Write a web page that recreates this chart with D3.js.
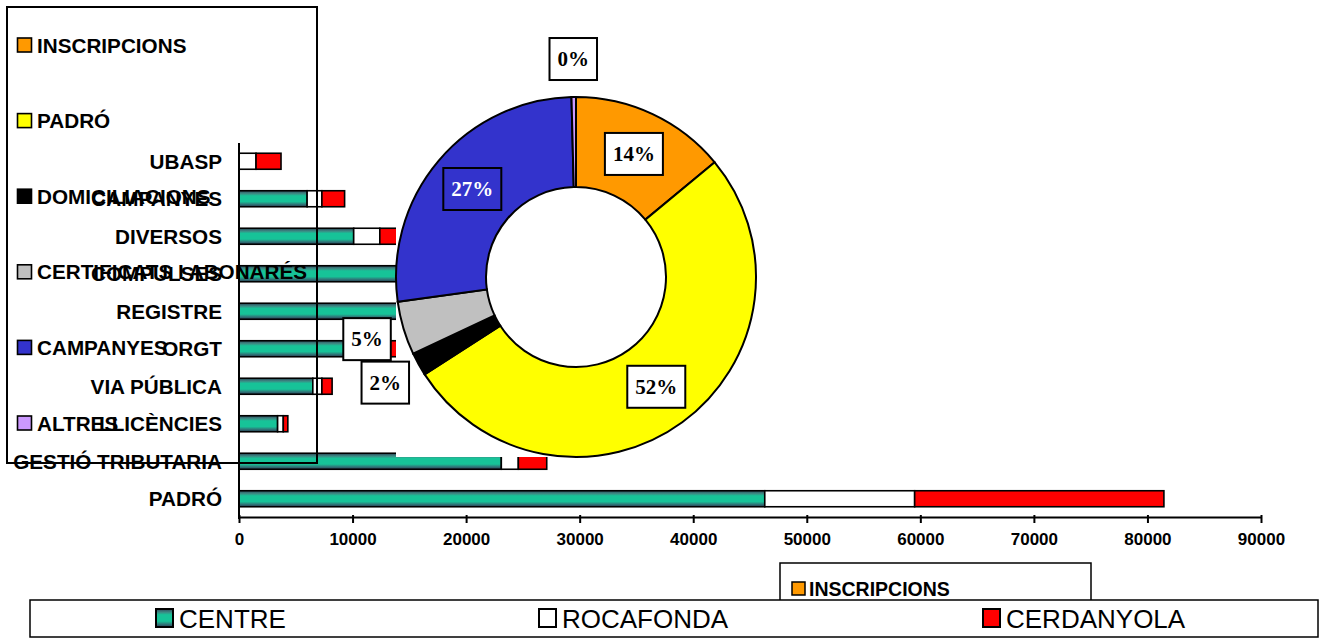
<!DOCTYPE html>
<html><head><meta charset="utf-8">
<script src="https://cdn.jsdelivr.net/npm/d3@7"></script>
<style>
html,body{margin:0;padding:0;background:#fff;}
svg{display:block;font-family:"Liberation Sans",Arial,sans-serif;}
</style></head>
<body>
<svg id="c" width="1324" height="639"></svg>
<script>
// ---------- DATA ----------
const categories = ["UBASP","CAMPANYES","DIVERSOS","COMPULSES","REGISTRE","ORGT","VIA PÚBLICA","LLICÈNCIES","GESTIÓ TRIBUTARIA","PADRÓ"];
const seriesNames = ["CENTRE","ROCAFONDA","CERDANYOLA"];
const centre     = [0,    6000, 10100, 15000, 14500, 12000, 6500, 3400, 23100, 46300];
const rocafonda  = [1500, 1300, 2300,  1000,  500,   800,   800,  500,  1500,  13200];
const cerdanyola = [2200, 2000, 1500,  1000,  500,   1500,  900,  400,  2500,  21950];
const xTicks = [0,10000,20000,30000,40000,50000,60000,70000,80000,90000];

const pieLabels = ["INSCRIPCIONS","PADRÓ","DOMICILIACIONS","CERTIFICATS I ABONARÉS","CAMPANYES","ALTRES"];
const pieValues = [14.0, 51.9, 2.1, 4.8, 26.8, 0.4];
const pieColors = ["#FF9900","#FFFF00","#000000","#C0C0C0","#3333CC","#CC99FF"];

// ---------- SETUP ----------
const svg = d3.select("#c");
const defs = svg.append("defs");
const grad = defs.append("linearGradient").attr("id","teal").attr("x1",0).attr("y1",0).attr("x2",0).attr("y2",1);
[[0,"#2d4a5c"],[0.18,"#3d8a84"],[0.32,"#17c398"],[0.68,"#17c398"],[0.84,"#2f7a7a"],[1,"#2b3f58"]]
  .forEach(([o,c])=>grad.append("stop").attr("offset",o).attr("stop-color",c));
const seriesFill = ["url(#teal)","#FFFFFF","#FF0000"];

const x = d3.scaleLinear().domain([0,90000]).range([239,1261]);
const y = d3.scaleBand().domain(categories).range([142.5,517.5]).paddingInner(0.573).paddingOuter(0.2865);

// ---------- BARS ----------
const rows = categories.map((c,i)=>({cat:c, vals:[centre[i],rocafonda[i],cerdanyola[i]]}));
const stacked = d3.stack().keys([0,1,2]).value((d,k)=>d.vals[k])(rows);
const gBars = svg.append("g");
stacked.forEach((layer,k)=>{
  gBars.selectAll(null).data(layer.filter(d=>d[1]-d[0]>0)).enter().append("rect")
    .attr("x",d=>x(d[0])).attr("width",d=>x(d[1])-x(d[0]))
    .attr("y",d=>y(d.data.cat)).attr("height",y.bandwidth())
    .attr("fill",seriesFill[k]).attr("stroke","#000").attr("stroke-width",1.6);
});

// category labels
svg.append("g").selectAll("text").data(categories).enter().append("text")
  .attr("x",222).attr("y",d=>y(d)+y.bandwidth()/2+7.5)
  .attr("text-anchor","end").attr("font-size",20.7).attr("font-weight","bold").text(d=>d);

// axes
const xAxis = svg.append("g").attr("transform","translate(0,517)")
  .call(d3.axisBottom(x).tickValues(xTicks).tickSize(6).tickSizeOuter(0).tickFormat(d3.format("d")));
xAxis.select(".domain").attr("stroke","#000").attr("stroke-width",2);
xAxis.selectAll(".tick line").attr("stroke","#000").attr("stroke-width",2).attr("y1",-2);
xAxis.selectAll(".tick text").style("font-size","17px").style("font-weight","bold")
  .style("font-family","'Liberation Sans',Arial,sans-serif").attr("fill","#000").attr("y",16);
svg.append("line").attr("x1",239).attr("x2",239).attr("y1",143).attr("y2",519)
  .attr("stroke","#000").attr("stroke-width",2);

// ---------- PIE ----------
const cx = 576, cy = 277, R = 180, r0 = 90;
svg.append("rect").attr("x",cx-R).attr("y",cy-R).attr("width",2*R).attr("height",2*R).attr("fill","#fff");
const pie = d3.pie().sort(null).value(d=>d)(pieValues);
const arc = d3.arc().innerRadius(r0).outerRadius(R);
const gPie = svg.append("g").attr("transform",`translate(${cx},${cy})`);
gPie.selectAll("path").data(pie).enter().append("path")
  .attr("d",arc).attr("fill",(d,i)=>pieColors[i]).attr("stroke","#000").attr("stroke-width",2);

// pie labels
const total = d3.sum(pieValues);
pie.forEach((d,i)=>{
  const pct = Math.round(d.value/total*100);
  const inside = pct >= 10;
  const rr = inside ? 136 : 218;
  const a = (d.startAngle+d.endAngle)/2;
  const lx = cx + rr*Math.sin(a), ly = cy - rr*Math.cos(a);
  const isBlue = i===4;
  const g = svg.append("g");
  const t = g.append("text").attr("x",lx).attr("y",ly+7).attr("text-anchor","middle")
    .style("font-family","'Liberation Serif','Times New Roman',serif").style("font-weight","bold")
    .style("font-size","21px").attr("fill",isBlue?"#fff":"#000").text(pct+"%");
  const bb = t.node().getBBox();
  g.insert("rect","text").attr("x",bb.x-8).attr("y",ly-21).attr("width",bb.width+16).attr("height",42)
    .attr("fill",isBlue?pieColors[4]:"#fff").attr("stroke","#000").attr("stroke-width",2);
});

// ---------- PIE LEGEND (top left) ----------
svg.append("rect").attr("x",7).attr("y",7).attr("width",310).attr("height",456)
  .attr("fill","none").attr("stroke","#000").attr("stroke-width",2);
const gl = svg.append("g");
pieLabels.forEach((lab,i)=>{
  const yc = 45 + i*75.6;
  gl.append("rect").attr("x",17.5).attr("y",yc-7).attr("width",14).attr("height",14)
    .attr("fill",pieColors[i]).attr("stroke","#000").attr("stroke-width",1.6);
  gl.append("text").attr("x",37).attr("y",yc+7.5).attr("font-size",20.7).attr("font-weight","bold").text(lab);
});

// second pie legend box (bottom, partially hidden)
svg.append("rect").attr("x",780).attr("y",563).attr("width",311).attr("height",50)
  .attr("fill","#fff").attr("stroke","#000").attr("stroke-width",1.5);
svg.append("rect").attr("x",792).attr("y",582).attr("width",13).attr("height",13)
  .attr("fill",pieColors[0]).attr("stroke","#000").attr("stroke-width",1.5);
svg.append("text").attr("x",809).attr("y",595.5).attr("font-size",19.5).attr("font-weight","bold").text(pieLabels[0]);

// ---------- BAR LEGEND (bottom) ----------
svg.append("rect").attr("x",30).attr("y",600).attr("width",1288).attr("height",37)
  .attr("fill","#fff").attr("stroke","#000").attr("stroke-width",1.5);
const legX = [155,538,982];
seriesNames.forEach((s,k)=>{
  svg.append("rect").attr("x",legX[k]+1).attr("y",609).attr("width",17).attr("height",18)
    .attr("fill",seriesFill[k]).attr("stroke","#000").attr("stroke-width",2);
  svg.append("text").attr("x",legX[k]+24).attr("y",627.5).attr("font-size",26).text(s);
});
</script>
</body></html>
